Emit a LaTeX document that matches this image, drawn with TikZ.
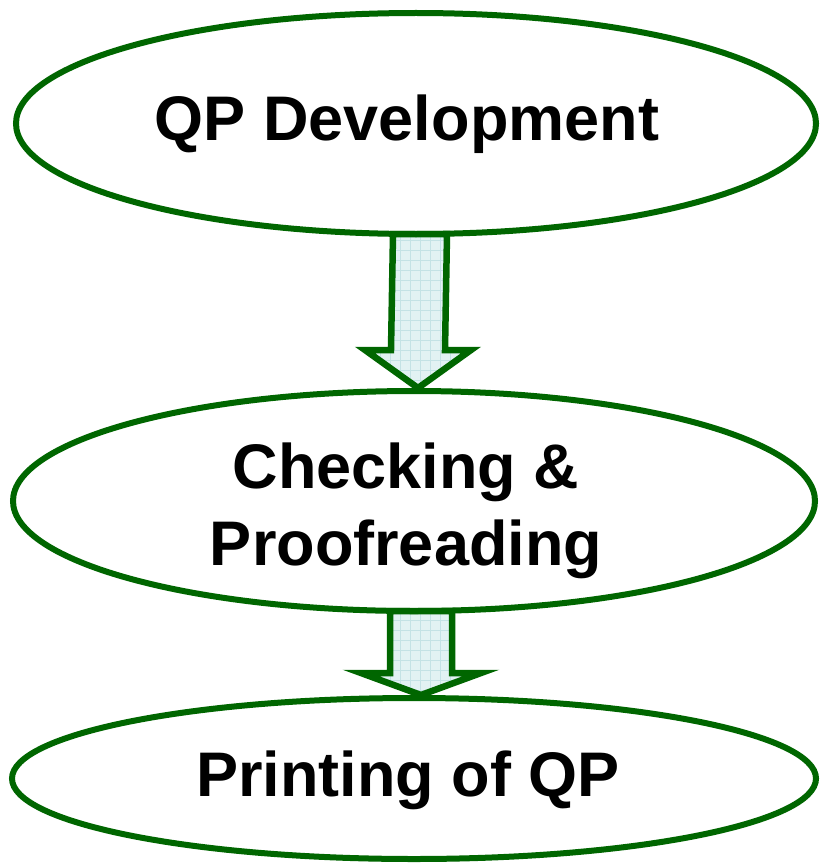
\documentclass[tikz,border=0pt]{standalone}
\usepackage{fontspec}
\setmainfont{Liberation Sans}
\usetikzlibrary{shapes.geometric,calc,backgrounds}
\definecolor{leaf}{RGB}{0,102,0}
\definecolor{icefill}{RGB}{226,242,243}
\definecolor{icegrid}{RGB}{196,226,229}
\tikzset{
  stage/.style={ellipse, draw=leaf, line width=6pt, inner sep=0pt},
  caption/.style={inner sep=0pt, font=\fontsize{63}{77}\selectfont\bfseries, align=center},
  flow/.style={draw=leaf, line width=6.5pt, fill=icefill, line join=miter,
    path picture={\draw[icegrid, line width=0.7pt]
      (path picture bounding box.south west) grid[step=10pt]
      (path picture bounding box.north east);}}
}
\begin{document}
\begin{tikzpicture}[x=1pt,y=-1pt]
\useasboundingbox (0,0) rectangle (820,864);

% process stages
\node[stage, minimum width=800pt, minimum height=221pt] (dev) at (416,123.5) {};
\node[stage, minimum width=802pt, minimum height=220pt] (chk) at (414,501) {};
\node[stage, minimum width=804pt, minimum height=161pt] (prt) at (414,778.5) {};

% stage captions
\node[caption] (devtxt) at ($(dev.center)+(-9,1)$) {QP Development};
\node[caption] (chktxt) at ($(chk.center)+(-8,10)$) {Checking \&\\Proofreading};
\node[caption] (prttxt) at ($(prt.center)+(-6,2)$) {Printing of QP};

% block arrows between stages, kept beneath the outlines
\begin{scope}[on background layer]
\path[flow]
  ($(dev.south)+(4-27,-3)$) --
  ($(chk.north)+(4-27,-38)$) --
  ($(chk.north)+(4-53,-38)$) --
  ($(chk.north)+(4,0)$) --
  ($(chk.north)+(4+53,-38)$) --
  ($(chk.north)+(4+27,-38)$) --
  ($(dev.south)+(4+27,-3)$) -- cycle;
\path[flow]
  ($(chk.south)+(7-31,-3)$) --
  ($(prt.north)+(7-31,-22)$) --
  ($(prt.north)+(7-60,-22)$) --
  ($(prt.north)+(7,0)$) --
  ($(prt.north)+(7+60,-22)$) --
  ($(prt.north)+(7+31,-22)$) --
  ($(chk.south)+(7+31,-3)$) -- cycle;
\end{scope}
\end{tikzpicture}
\end{document}
